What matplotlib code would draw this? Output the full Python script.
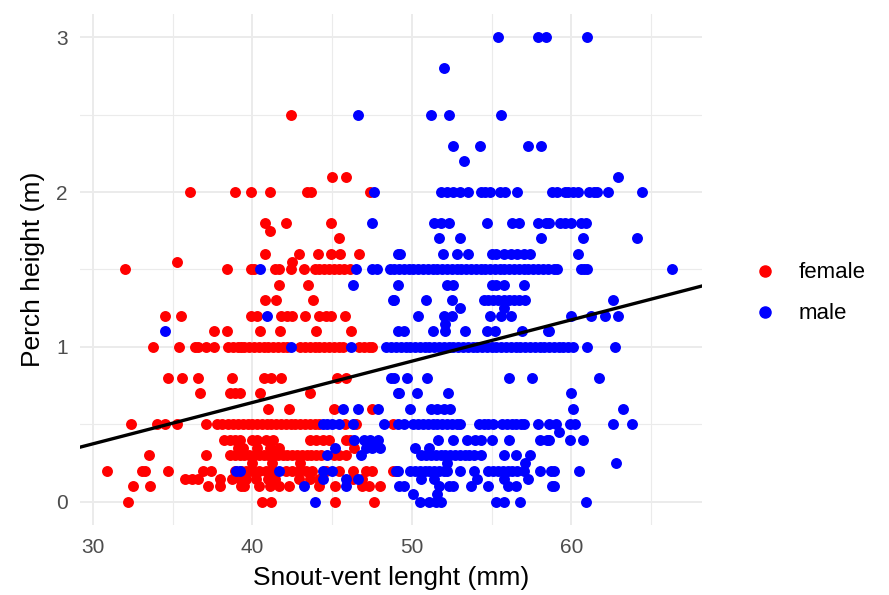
import matplotlib.pyplot as plt
import matplotlib.lines as mlines
import numpy as np

plt.rcParams['font.family'] = ['Liberation Sans', 'DejaVu Sans']

# perch height levels (m) and the snout-vent lengths (mm) seen on each level
female_heights = [2.5, 2.1, 2.0, 1.8, 1.75, 1.7, 1.6, 1.55, 1.5, 1.4, 1.3, 1.2, 1.1, 1.0,
                  0.8, 0.7, 0.6, 0.5, 0.4, 0.35, 0.3, 0.25, 0.2, 0.15, 0.1, 0.0]
female_svl = [
    [42.4],
    [45.0, 45.9],
    [36.1, 38.9, 39.9, 41.1, 43.4, 43.7, 47.4],
    [40.8, 42.1, 44.9],
    [41.1],
    [45.4],
    [40.8, 42.9, 44.1, 44.9, 45.5, 46.7],
    [42.5, 35.3],
    [32.0, 38.4, 39.9, 40.1, 41.4, 41.7, 42.4, 43.25, 43.9, 44.2, 44.5, 44.8, 45.1, 45.4,
     45.75, 46.1],
    [41.7, 43.5],
    [40.8, 41.5, 43.8],
    [34.5, 35.5, 39.9, 40.3, 41.8, 42.2, 42.5, 43.3, 44.2, 44.6, 44.9, 45.8],
    [37.6, 38.4, 40.5, 41.75, 44.0, 46.2],
    [33.8, 35.4, 36.4, 36.6, 37.1, 37.6, 38.5, 38.8, 39.1, 39.3, 39.5, 39.8, 40.1, 40.4,
     40.7, 41.0, 41.3, 41.6, 41.9, 42.2, 43.0, 43.3, 43.6, 43.9, 44.2, 44.5, 44.8, 45.1,
     45.4, 45.7, 46.7, 47.0, 47.3, 47.5],
    [34.7, 35.6, 36.6, 38.7, 40.75, 41.2, 41.8, 45.3, 45.9],
    [36.7, 38.6, 38.9, 39.2, 40.5, 43.6],
    [41.0, 42.3, 45.1, 47.5],
    [32.4, 34.0, 34.5, 35.3, 37.1, 37.8, 38.1, 38.5, 38.8, 39.1, 39.4, 39.7, 40.0, 40.3,
     40.6, 40.9, 41.2, 41.5, 41.8, 42.1, 42.4, 42.7, 43.0, 43.3, 43.6, 43.9, 44.2, 45.8,
     46.5, 48.8],
    [38.25, 38.6, 38.9, 39.2, 40.0, 40.3, 40.85, 41.3, 43.6, 44.0, 44.4, 44.8, 45.85, 46.1],
    [39.1, 39.4, 40.3, 41.1, 41.7, 46.4],
    [33.5, 37.1, 38.6, 38.9, 39.2, 39.5, 39.8, 40.1, 40.4, 40.7, 41.0, 41.3, 41.6, 41.9,
     42.2, 42.5, 42.8, 43.1, 43.4, 43.7, 44.0, 44.3, 45.1, 45.4, 45.85],
    [40.0, 41.25, 43.0],
    [30.9, 33.1, 33.25, 34.7, 36.9, 37.4, 38.9, 39.3, 39.6, 40.0, 40.4, 40.85, 41.25, 42.1,
     42.5, 42.9, 43.35, 43.75, 44.6, 45.4, 46.3, 47.1, 47.5, 48.8],
    [35.75, 36.2, 36.6, 38.0, 38.7, 39.2, 39.6, 40.2, 41.0, 41.4, 42.9, 43.6, 44.2, 46.3,
     46.9],
    [32.5, 33.6, 37.2, 38.0, 39.3, 39.5, 40.4, 41.1, 41.7, 42.3, 44.2, 45.2, 46.9, 47.3,
     48.0],
    [32.2, 40.6, 41.2, 45.2, 47.6],
]

male_heights = [3.0, 2.8, 2.5, 2.3, 2.2, 2.1, 2.0, 1.8, 1.7, 1.6, 1.5, 1.4, 1.3, 1.25, 1.2,
                1.15, 1.1, 1.0, 0.8, 0.7, 0.6, 0.5, 0.45, 0.4, 0.35, 0.3, 0.25, 0.2, 0.15,
                0.1, 0.05, 0.0]
male_svl = [
    [55.4, 57.9, 58.4, 61.0],
    [52.0],
    [46.6, 51.2, 52.3, 55.6],
    [52.6, 54.25, 57.3, 58.1],
    [53.25],
    [62.9],
    [47.6, 51.8, 52.2, 52.6, 53.0, 53.5, 54.3, 54.6, 54.9, 55.5, 55.85, 56.6, 58.8, 59.1,
     59.6, 59.8, 60.1, 60.4, 61.1, 61.4, 61.6, 62.3, 64.4],
    [47.5, 51.4, 51.8, 52.3, 54.7, 56.3, 56.7, 57.9, 58.4, 58.6, 59.3, 59.6, 60.0, 60.6,
     60.9],
    [51.7, 53.0, 58.1, 60.7, 64.1],
    [49.1, 49.25, 51.95, 52.8, 53.5, 55.0, 55.3, 55.75, 56.2, 56.6, 57.0, 57.4, 60.4],
    [40.5, 46.5, 47.5, 47.8, 48.6, 48.9, 49.2, 49.5, 49.8, 50.1, 50.4, 50.7, 51.0, 51.3,
     51.6, 51.9, 52.2, 52.5, 52.8, 53.1, 53.4, 53.7, 54.0, 54.3, 54.6, 54.9, 55.2, 55.5,
     55.8, 56.1, 56.4, 56.7, 57.0, 57.3, 57.6, 57.9, 58.2, 58.5, 58.9, 59.1, 60.6, 60.8,
     61.0, 66.3],
    [46.3, 49.1, 52.2, 52.6, 55.0, 55.3, 55.75, 57.0],
    [48.8, 48.9, 50.9, 52.5, 54.5, 54.8, 55.1, 55.4, 55.75, 56.1, 56.4, 56.7, 57.1, 62.6],
    [53.0, 55.75],
    [40.9, 50.4, 52.0, 52.5, 54.9, 55.6, 56.2, 60.0, 61.2, 62.1, 62.9],
    [52.1],
    [34.5, 49.1, 49.5, 51.3, 52.1, 53.3, 54.7, 55.2, 56.9, 58.5, 58.6],
    [42.4, 46.2, 48.4, 48.7, 49.0, 49.3, 49.6, 49.9, 50.2, 50.5, 50.8, 51.1, 51.4, 51.7,
     52.0, 52.3, 52.6, 52.9, 53.2, 53.5, 53.8, 54.1, 54.4, 54.7, 55.0, 55.3, 55.6, 55.9,
     56.2, 56.5, 56.8, 57.1, 57.4, 57.7, 58.0, 58.3, 58.6, 58.9, 59.2, 59.5, 59.8, 60.1,
     61.0, 62.7],
    [48.7, 48.9, 49.7, 50.95, 56.1, 57.5, 61.7],
    [49.1, 49.2, 50.3, 52.25, 60.0],
    [45.7, 46.6, 47.9, 49.9, 51.2, 51.6, 52.0, 52.4, 60.1, 63.2],
    [44.4, 44.7, 45.0, 45.4, 46.3, 48.25, 49.1, 49.5, 50.1, 50.4, 50.7, 51.0, 51.3, 51.6,
     51.9, 52.2, 52.5, 52.8, 53.0, 54.2, 54.5, 54.8, 55.1, 55.65, 55.95, 56.25, 56.55,
     56.85, 57.0, 57.9, 58.6, 59.0, 59.9, 60.2, 62.6, 63.8],
    [59.2],
    [46.4, 47.0, 47.4, 47.9, 51.65, 52.6, 53.45, 53.95, 54.3, 55.0, 56.1, 58.0, 58.45,
     58.6, 59.9, 60.7],
    [45.2, 48.0, 47.1, 47.5, 50.2, 51.1],
    [44.7, 46.8, 50.6, 50.9, 51.2, 51.5, 51.8, 52.1, 52.4, 52.7, 53.0, 53.3, 53.6, 53.9,
     54.3, 55.75, 56.5, 57.4],
    [52.2, 57.1, 62.8],
    [39.0, 39.2, 41.7, 44.4, 45.0, 49.0, 49.1, 49.9, 50.2, 50.5, 50.8, 51.1, 51.4, 51.7,
     52.0, 52.2, 53.0, 53.9, 54.8, 55.1, 55.4, 55.7, 56.0, 56.3, 56.6, 57.0, 58.0, 58.7,
     58.9, 60.5],
    [44.4, 45.85, 46.6, 50.6, 51.4, 54.1, 55.75, 57.3],
    [43.25, 45.85, 49.2, 49.5, 51.7, 52.3, 52.6, 53.7, 54.8, 56.0, 56.5, 58.8, 58.9],
    [50.1, 51.6],
    [43.9, 50.5, 51.05, 51.5, 51.8, 55.3, 55.75, 56.75, 60.9],
]

# regression line
fit_intercept = -0.427
fit_slope = 0.0267

f_x = np.concatenate([np.array(r) for r in female_svl])
f_y = np.concatenate([[h] * len(r) for h, r in zip(female_heights, female_svl)])
m_x = np.concatenate([np.array(r) for r in male_svl])
m_y = np.concatenate([[h] * len(r) for h, r in zip(male_heights, male_svl)])

fig = plt.figure(figsize=(8.89, 5.95), dpi=100)
ax = fig.add_axes([0.090, 0.1176, 0.700, 0.859])

ax.scatter(f_x, f_y, s=62, color='#FF0000', linewidths=0, zorder=3)
ax.scatter(m_x, m_y, s=62, color='#0000FF', linewidths=0, zorder=3)

xs = np.array([29.2, 68.2])
ax.plot(xs, fit_intercept + fit_slope * xs, color='black', lw=2.4, zorder=4)

ax.set_xlim(29.2, 68.2)
ax.set_ylim(-0.15, 3.15)
ax.set_xticks([30, 40, 50, 60])
ax.set_yticks([0, 1, 2, 3])
ax.set_xticks([35, 45, 55, 65], minor=True)
ax.set_yticks([0.5, 1.5, 2.5], minor=True)
ax.grid(which='major', color='#EBEBEB', lw=1.4)
ax.grid(which='minor', color='#EBEBEB', lw=0.8)
ax.set_axisbelow(True)
for sp in ax.spines.values():
    sp.set_visible(False)
ax.tick_params(which='both', length=0, labelsize=15, labelcolor='#4D4D4D', pad=9)

ax.set_xlabel('Snout-vent lenght (mm)', fontsize=19, labelpad=7)
ax.set_ylabel('Perch height (m)', fontsize=19, labelpad=8)

h_f = mlines.Line2D([], [], marker='o', ls='', color='#FF0000', markersize=8)
h_m = mlines.Line2D([], [], marker='o', ls='', color='#0000FF', markersize=8)
fig.legend([h_f, h_m], ['female', 'male'], loc='center left',
           bbox_to_anchor=(0.826, 0.507), frameon=False, fontsize=16,
           handletextpad=1.0, labelspacing=0.9, handlelength=1.0)

fig.savefig('out.png', dpi=100)
